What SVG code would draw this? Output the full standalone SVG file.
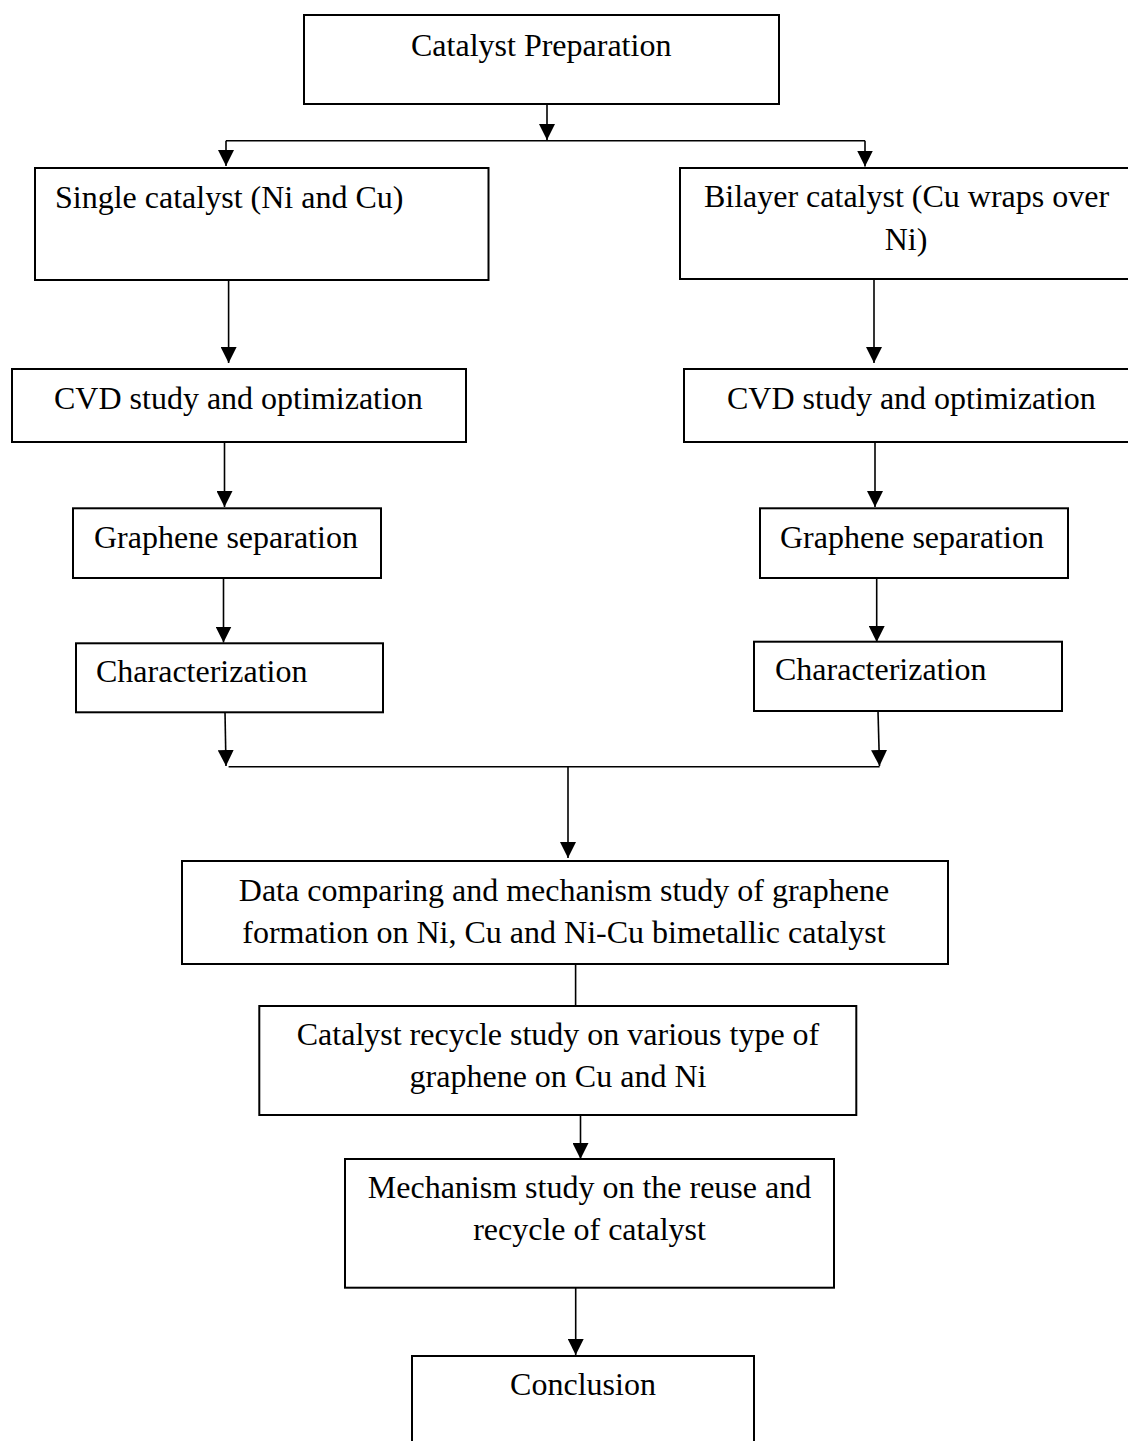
<svg xmlns="http://www.w3.org/2000/svg" width="1128" height="1441" viewBox="0 0 1128 1441">
<defs>
<style>
.box{fill:#fff;stroke:#000;stroke-width:2}
.t{font-family:"Liberation Serif","Times New Roman",serif;font-size:32px;fill:#000}
.c{text-anchor:middle}
.ln{fill:none;stroke:#000;stroke-width:1.6}
</style>
<marker id="ah" markerWidth="16" markerHeight="16" refX="16" refY="8" orient="auto" markerUnits="userSpaceOnUse">
<path d="M0,0 L16,8 L0,16 z" fill="#000"/>
</marker>
</defs>
<rect width="1128" height="1441" fill="#fff"/>
<g id="connectors">
<line class="ln" x1="547" y1="104" x2="547" y2="140" marker-end="url(#ah)"/>
<line class="ln" x1="226" y1="140.7" x2="865" y2="140.7"/>
<line class="ln" x1="226" y1="140.7" x2="226" y2="166" marker-end="url(#ah)"/>
<line class="ln" x1="865" y1="140.7" x2="865" y2="166.5" marker-end="url(#ah)"/>
<line class="ln" x1="228.6" y1="280" x2="228.6" y2="363" marker-end="url(#ah)"/>
<line class="ln" x1="874" y1="279" x2="874" y2="363" marker-end="url(#ah)"/>
<line class="ln" x1="224.5" y1="442" x2="224.5" y2="507" marker-end="url(#ah)"/>
<line class="ln" x1="875" y1="442" x2="875" y2="507" marker-end="url(#ah)"/>
<line class="ln" x1="223.5" y1="578" x2="223.5" y2="642.5" marker-end="url(#ah)"/>
<line class="ln" x1="876.7" y1="578" x2="876.7" y2="642" marker-end="url(#ah)"/>
<line class="ln" x1="225" y1="712" x2="226" y2="766" marker-end="url(#ah)"/>
<line class="ln" x1="878" y1="711" x2="879.5" y2="766" marker-end="url(#ah)"/>
<line class="ln" x1="228.6" y1="766.7" x2="879.6" y2="766.7"/>
<line class="ln" x1="568" y1="766.7" x2="568" y2="858" marker-end="url(#ah)"/>
<line class="ln" x1="575.6" y1="964" x2="575.6" y2="1006"/>
<line class="ln" x1="580.5" y1="1115" x2="580.5" y2="1159" marker-end="url(#ah)"/>
<line class="ln" x1="575.7" y1="1277" x2="575.7" y2="1355" marker-end="url(#ah)"/>
</g>
<g id="n-prep">
<rect class="box" x="304" y="15" width="475" height="89"/>
<text class="t" x="411" y="56">Catalyst Preparation</text>
</g>
<g id="n-single">
<rect class="box" x="35" y="168" width="453.5" height="112"/>
<text class="t" x="55" y="208">Single catalyst (Ni and Cu)</text>
</g>
<g id="n-bilayer">
<rect class="box" x="680" y="168" width="460" height="111"/>
<text class="t c" x="906.5" y="207">Bilayer catalyst (Cu wraps over</text>
<text class="t c" x="906" y="249.5">Ni)</text>
</g>
<g id="n-cvd-left">
<rect class="box" x="12" y="369" width="454" height="73"/>
<text class="t" x="54" y="409">CVD study and optimization</text>
</g>
<g id="n-cvd-right">
<rect class="box" x="684" y="369" width="456" height="73"/>
<text class="t" x="727" y="409">CVD study and optimization</text>
</g>
<g id="n-sep-left">
<rect class="box" x="73" y="508.3" width="308" height="69.7"/>
<text class="t" x="94" y="548">Graphene separation</text>
</g>
<g id="n-sep-right">
<rect class="box" x="760" y="508.3" width="308" height="69.7"/>
<text class="t" x="780" y="548">Graphene separation</text>
</g>
<g id="n-char-left">
<rect class="box" x="76" y="643.3" width="307" height="69"/>
<text class="t" x="96" y="682">Characterization</text>
</g>
<g id="n-char-right">
<rect class="box" x="754" y="641.7" width="308" height="69.3"/>
<text class="t" x="775" y="680">Characterization</text>
</g>
<g id="n-data">
<rect class="box" x="182" y="861" width="766" height="103"/>
<text class="t c" x="564" y="901">Data comparing and mechanism study of graphene</text>
<text class="t c" x="564" y="943">formation on Ni, Cu and Ni-Cu bimetallic catalyst</text>
</g>
<g id="n-recycle">
<rect class="box" x="259.3" y="1006" width="597" height="109"/>
<text class="t c" x="558" y="1045">Catalyst recycle study on various type of</text>
<text class="t c" x="558" y="1087">graphene on Cu and Ni</text>
</g>
<g id="n-mech">
<rect class="box" x="345" y="1159" width="489" height="128.7"/>
<text class="t c" x="589.5" y="1198">Mechanism study on the reuse and</text>
<text class="t c" x="589.5" y="1240">recycle of catalyst</text>
</g>
<g id="n-concl">
<rect class="box" x="412" y="1356" width="342" height="100"/>
<text class="t c" x="583" y="1395">Conclusion</text>
</g>
</svg>
